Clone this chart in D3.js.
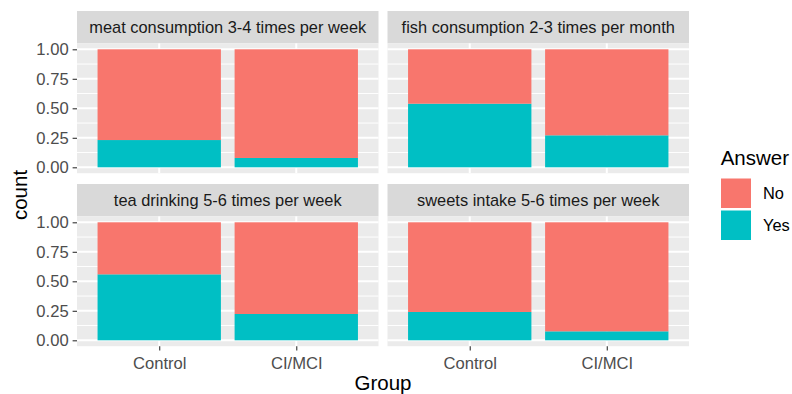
<!DOCTYPE html>
<html><head><meta charset="utf-8">
<script src="https://cdn.jsdelivr.net/npm/d3@7"></script>
<style>body{margin:0;background:#fff}svg{display:block;font-family:"Liberation Sans",Arial,sans-serif}</style>
</head><body><svg id="c" width="792" height="394"></svg>
<script>
const facets = ["meat consumption 3-4 times per week","fish consumption 2-3 times per month","tea drinking 5-6 times per week","sweets intake 5-6 times per week"];
const groups = ["Control","CI/MCI"];
const answers = ["No","Yes"];
const colors = ["#F8766D","#00BFC4"];
// proportion answering "Yes" per facet, per group
const yesControl = [0.231,0.539,0.559,0.240];
const yesCIMCI = [0.079,0.271,0.223,0.076];
const yTicks = [0,0.25,0.5,0.75,1];
const yMinor = [0.125,0.375,0.625,0.875];

const svg = d3.select("#c");
const colX = [[77,378.5],[387.5,689]];
const rowY = [[43.4,173.2],[216.4,346.2]];
const stripH = 32.4;
const color = d3.scaleOrdinal().domain(answers).range(colors);

facets.forEach((name,i)=>{
  const col=i%2,row=Math.floor(i/2);
  const [x0,x1]=colX[col],[y0,y1]=rowY[row];
  // ggplot discrete: expansion 0.6 each side, bar width 0.9
  const xc=d3.scalePoint().domain(groups).range([x0,x1]).padding(0.6);
  const step=xc.step();
  const y=d3.scaleLinear().domain([-0.05,1.05]).range([y1,y0]);
  const g=svg.append("g");
  // strip
  g.append("rect").attr("x",x0).attr("y",y0-stripH).attr("width",x1-x0).attr("height",stripH).attr("fill","#D9D9D9");
  g.append("text").attr("x",(x0+x1)/2).attr("y",y0-stripH/2).attr("dy","0.36em").attr("text-anchor","middle")
    .attr("font-size",16.4).attr("fill","#1A1A1A").text(name);
  // panel
  g.append("rect").attr("x",x0).attr("y",y0).attr("width",x1-x0).attr("height",y1-y0).attr("fill","#EBEBEB");
  g.selectAll(".mn").data(yMinor).join("line").attr("x1",x0).attr("x2",x1).attr("y1",d=>y(d)).attr("y2",d=>y(d)).attr("stroke","#fff").attr("stroke-width",1);
  g.selectAll(".mj").data(yTicks).join("line").attr("x1",x0).attr("x2",x1).attr("y1",d=>y(d)).attr("y2",d=>y(d)).attr("stroke","#fff").attr("stroke-width",2);
  g.selectAll(".vx").data(groups).join("line").attr("x1",d=>xc(d)).attr("x2",d=>xc(d)).attr("y1",y0).attr("y2",y1).attr("stroke","#fff").attr("stroke-width",2);
  // bars
  const yesVals=[yesControl[i],yesCIMCI[i]];
  groups.forEach((gname,j)=>{
    const stack=[{a:"Yes",lo:0,hi:yesVals[j]},{a:"No",lo:yesVals[j],hi:1}];
    g.selectAll(null).data(stack).join("rect")
      .attr("x",xc(gname)-0.45*step).attr("width",0.9*step)
      .attr("y",d=>y(d.hi)).attr("height",d=>y(d.lo)-y(d.hi))
      .attr("fill",d=>color(d.a));
  });
  // y axis on left column
  if(col===0){
    const ax=g.append("g").attr("transform",`translate(${x0},0)`).call(d3.axisLeft(y).tickValues(yTicks).tickFormat(d3.format(".2f")).tickSize(4.4).tickPadding(4));
    ax.select(".domain").remove();
    ax.selectAll("line").attr("stroke","#333").attr("stroke-width",1.1);
    ax.selectAll("text").attr("font-size",16.6).attr("fill","#4D4D4D").attr("font-family","Liberation Sans, Arial, sans-serif");
  }
  if(row===1){
    const ax=g.append("g").attr("transform",`translate(0,${y1})`).call(d3.axisBottom(xc).tickSize(4.4).tickPadding(6.5));
    ax.select(".domain").remove();
    ax.selectAll("line").attr("stroke","#333").attr("stroke-width",1.1);
    ax.selectAll("text").attr("font-size",16.6).attr("fill","#4D4D4D").attr("font-family","Liberation Sans, Arial, sans-serif");
  }
});
// axis titles
svg.append("text").attr("x",(77+689)/2).attr("y",390).attr("text-anchor","middle").attr("font-size",20.5).attr("fill","#000").text("Group");
svg.append("text").attr("transform","translate(27,195) rotate(-90)").attr("text-anchor","middle").attr("font-size",20.5).attr("fill","#000").text("count");
// legend
const lg=svg.append("g");
lg.append("text").attr("x",720.7).attr("y",165).attr("font-size",20.5).attr("fill","#000").text("Answer");
answers.forEach((a,k)=>{
  lg.append("rect").attr("x",721).attr("y",178.5+k*32).attr("width",30).attr("height",29.5).attr("fill",color(a));
  lg.append("text").attr("x",763).attr("y",193+k*32).attr("dy","0.36em").attr("font-size",16.4).attr("fill","#000").text(a);
});
</script></body></html>
